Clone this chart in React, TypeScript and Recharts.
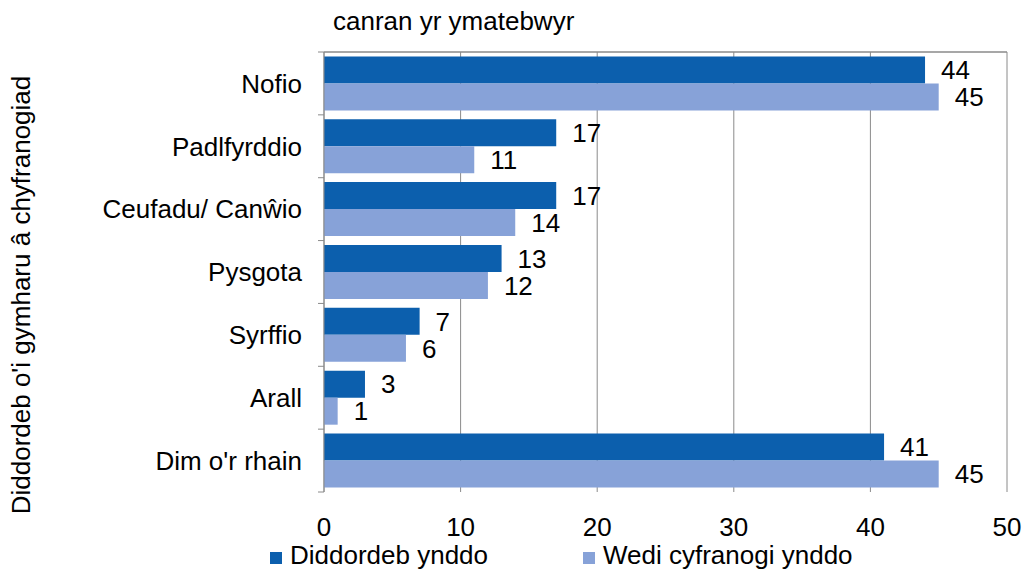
import React from 'react';
import { BarChart, Bar, XAxis, YAxis, CartesianGrid, Legend, LabelList } from 'recharts';

const categories = ['Nofio', 'Padlfyrddio', 'Ceufadu/ Canŵio', 'Pysgota', 'Syrffio', 'Arall', "Dim o'r rhain"];
const interestValues = [44, 17, 17, 13, 7, 3, 41];
const participatedValues = [45, 11, 14, 12, 6, 1, 45];
const xTicks = [0, 10, 20, 30, 40, 50];
const seriesNames = ['Diddordeb ynddo', 'Wedi cyfranogi ynddo'];
const colors = ['#0C5FAD', '#87A2D8'];
const xTitle = 'canran yr ymatebwyr';
const yTitle = "Diddordeb o'i gymharu â chyfranogiad";

const data = categories.map((name, i) => ({
  name,
  interest: interestValues[i],
  participated: participatedValues[i],
}));

const FONT = '"Liberation Sans", Arial, sans-serif';
const GRID = '#8A8A8A';
const TICK_MARGIN = 22;
const TICK_LEN = 6;

const CategoryTick = (props: any) => {
  const { x, y, payload, index } = props;
  const half = payload && payload.offset ? payload.offset : 0;
  const axisX = x + TICK_MARGIN;
  const isLast = index === categories.length - 1;
  return (
    <g>
      <text x={x} y={y} dy="0.355em" textAnchor="end" fontFamily={FONT} fontSize={26} fill="#000">
        {payload.value}
      </text>
      <line x1={axisX - TICK_LEN} x2={axisX} y1={y - half} y2={y - half} stroke={GRID} />
      {isLast && <line x1={axisX - TICK_LEN} x2={axisX} y1={y + half} y2={y + half} stroke={GRID} />}
    </g>
  );
};

const LegendContent = () => (
  <div style={{ position: 'relative', width: 1027, height: 30, fontFamily: FONT, fontSize: 26, lineHeight: '30px', color: '#000' }}>
    {seriesNames.map((n, i) => (
      <div key={n} style={{ position: 'absolute', left: i === 0 ? 270 : 583, top: 0, display: 'flex', alignItems: 'flex-start', whiteSpace: 'nowrap' }}>
        <div style={{ width: 12, height: 12, background: colors[i], marginTop: 12, marginRight: 8 }} />
        <span>{n}</span>
      </div>
    ))}
  </div>
);

export default function App() {
  return (
    <div style={{ position: 'absolute', left: 0, top: 0, width: 1027, height: 573, background: '#fff' }}>
      <BarChart
        width={1027}
        height={573}
        data={data}
        layout="vertical"
        margin={{ top: 22, right: 20, bottom: 21, left: 0 }}
        barCategoryGap="7%"
        barGap={0}
      >
        <CartesianGrid horizontal={false} vertical stroke={GRID} xAxisId="bottom" yAxisId="cat" />
        <XAxis
          xAxisId="top"
          orientation="top"
          type="number"
          domain={[0, 50]}
          ticks={xTicks}
          height={30}
          tick={false}
          tickSize={7}
          axisLine={{ stroke: GRID, strokeWidth: 1.5 }}
          tickLine={{ stroke: GRID }}
          label={{
            content: () => (
              <text x={333} y={30} fontFamily={FONT} fontSize={26} fill="#000">{xTitle}</text>
            ),
          }}
        />
        <XAxis
          xAxisId="bottom"
          orientation="bottom"
          type="number"
          domain={[0, 50]}
          ticks={xTicks}
          height={30}
          axisLine={false}
          tickLine={false}
          tickSize={0}
          tickMargin={26}
          tick={{ fontFamily: FONT, fontSize: 26, fill: '#000' }}
        />
        <YAxis
          yAxisId="cat"
          orientation="left"
          type="category"
          dataKey="name"
          width={324}
          axisLine={{ stroke: GRID }}
          tickLine={false}
          tickSize={0}
          tickMargin={TICK_MARGIN}
          tick={<CategoryTick />}
          interval={0}
          label={{
            content: () => (
              <text
                x={30}
                y={295}
                transform="rotate(-90 30 295)"
                textAnchor="middle"
                fontFamily={FONT}
                fontSize={26}
                fill="#000"
              >
                {yTitle}
              </text>
            ),
          }}
        />
        <Legend
          verticalAlign="bottom"
          height={30}
          content={() => <LegendContent />}
          wrapperStyle={{ position: 'absolute', left: 0, top: 540, width: 1027, height: 30 }}
        />
        <Bar dataKey="interest" name={seriesNames[0]} fill={colors[0]} xAxisId="bottom" yAxisId="cat" isAnimationActive={false}>
          <LabelList dataKey="interest" position="right" offset={16} fontFamily={FONT} fontSize={26} fill="#000" />
        </Bar>
        <Bar dataKey="participated" name={seriesNames[1]} fill={colors[1]} xAxisId="bottom" yAxisId="cat" isAnimationActive={false}>
          <LabelList dataKey="participated" position="right" offset={16} fontFamily={FONT} fontSize={26} fill="#000" />
        </Bar>
      </BarChart>
    </div>
  );
}
